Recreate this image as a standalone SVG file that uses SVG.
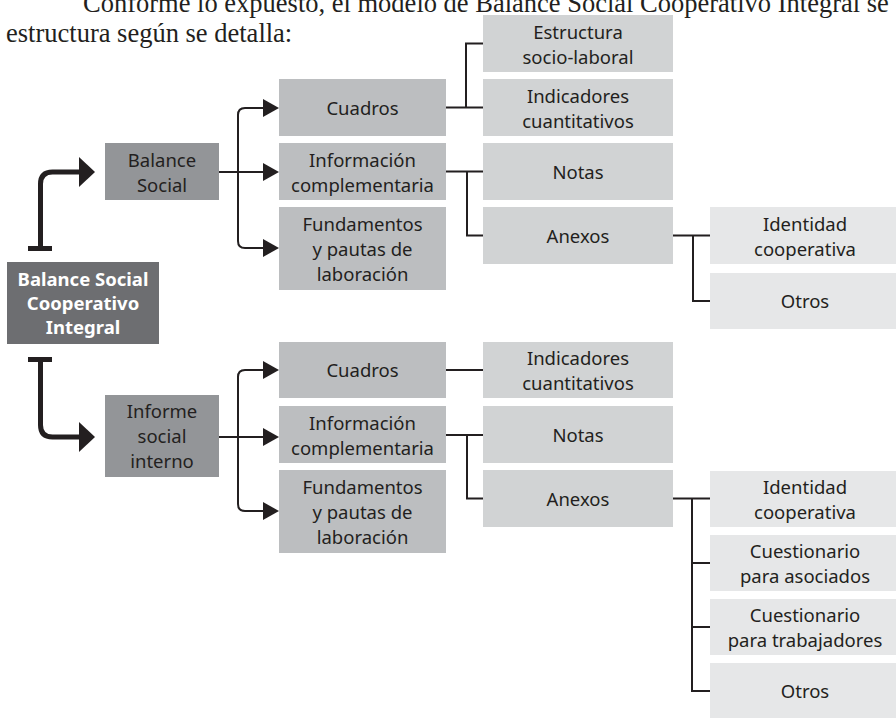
<svg xmlns="http://www.w3.org/2000/svg" width="896" height="718" viewBox="0 0 896 718">
<defs>
<style>
.n1{fill:#6d6e71}.n2{fill:#939598}.n3{fill:#bcbec0}.n4{fill:#d1d3d4}.n5{fill:#e6e7e8}
.t{font-family:"Noto Sans","Open Sans",sans-serif;font-size:18.5px;fill:#231f20;text-anchor:middle}
.b{font-weight:bold;fill:#ffffff}
.p{font-family:"Liberation Serif","Times New Roman",serif;font-size:26.5px;fill:#231f20}
.c{stroke:#231f20;stroke-width:2;fill:none}
.k{stroke:#231f20;stroke-width:5;fill:none}
.bar{fill:#231f20}
</style>
<marker id="ah" markerUnits="userSpaceOnUse" markerWidth="16" markerHeight="18" viewBox="0 0 16 18" refX="1" refY="9" orient="auto">
<path d="M0,0 L16,9 L0,18 Z" fill="#231f20"/>
</marker>
<marker id="AH" markerUnits="userSpaceOnUse" markerWidth="16" markerHeight="30" viewBox="0 0 16 30" refX="1" refY="15" orient="auto">
<path d="M0,0 L16,15 L0,30 Z" fill="#231f20"/>
</marker>
</defs>
<rect width="896" height="718" fill="#ffffff"/>
<text class="p" x="83" y="11.5">Conforme lo expuesto, el modelo de Balance Social Cooperativo Integral se</text>
<text class="p" x="6" y="42">estructura según se detalla:</text>

<g id="connectors">
<rect class="bar" x="28" y="246" width="24" height="5"/>
<path class="k" d="M40.5,248 V184 Q40.5,172 52.5,172 H80" marker-end="url(#AH)"/>
<rect class="bar" x="28" y="357" width="24" height="5"/>
<path class="k" d="M40.5,360 V425 Q40.5,437 52.5,437 H80" marker-end="url(#AH)"/>

<path class="c" d="M219,172 H264" marker-end="url(#ah)"/>
<path class="c" d="M238,172 V115 Q238,108 245,108 H264" marker-end="url(#ah)"/>
<path class="c" d="M238,172 V241 Q238,248 245,248 H264" marker-end="url(#ah)"/>
<path class="c" d="M446,107.5 H483 M466,107.5 V43.5 H483"/>
<path class="c" d="M446,171.5 H483 M467,171.5 V235.5 H483"/>
<path class="c" d="M673,235.5 H710 M693,235.5 V301 H710"/>

<path class="c" d="M219,437 H264" marker-end="url(#ah)"/>
<path class="c" d="M238,437 V377 Q238,370 245,370 H264" marker-end="url(#ah)"/>
<path class="c" d="M238,437 V504 Q238,511 245,511 H264" marker-end="url(#ah)"/>
<path class="c" d="M446,370 H483"/>
<path class="c" d="M446,435 H483 M467,435 V498.5 H483"/>
<path class="c" d="M673,498.5 H710 M692,498.5 V691 H710 M692,563 H710 M692,627 H710"/>
</g>

<g id="bsci"><rect class="n1" x="7" y="262" width="152" height="82"/>
<text class="t b" x="83"><tspan x="83" y="286">Balance Social</tspan><tspan x="83" y="310">Cooperativo</tspan><tspan x="83" y="334">Integral</tspan></text></g>

<g id="balance-social"><rect class="n2" x="105" y="143" width="114" height="57"/>
<text class="t"><tspan x="162" y="166.5">Balance</tspan><tspan x="162" y="191.5">Social</tspan></text></g>
<g id="informe"><rect class="n2" x="105" y="395" width="114" height="82"/>
<text class="t"><tspan x="162" y="418">Informe</tspan><tspan x="162" y="443">social</tspan><tspan x="162" y="468">interno</tspan></text></g>

<g id="cuadros1"><rect class="n3" x="279" y="79" width="167" height="57"/>
<text class="t" x="362.5" y="114.5">Cuadros</text></g>
<g id="info1"><rect class="n3" x="279" y="143" width="167" height="57"/>
<text class="t"><tspan x="362.5" y="166.5">Información</tspan><tspan x="362.5" y="191.5">complementaria</tspan></text></g>
<g id="fund1"><rect class="n3" x="279" y="207" width="167" height="83"/>
<text class="t"><tspan x="362.5" y="230.5">Fundamentos</tspan><tspan x="362.5" y="255.5">y pautas de</tspan><tspan x="362.5" y="280.5">laboración</tspan></text></g>

<g id="cuadros2"><rect class="n3" x="279" y="342" width="167" height="56"/>
<text class="t" x="362.5" y="377">Cuadros</text></g>
<g id="info2"><rect class="n3" x="279" y="406" width="167" height="57"/>
<text class="t"><tspan x="362.5" y="429.5">Información</tspan><tspan x="362.5" y="454.5">complementaria</tspan></text></g>
<g id="fund2"><rect class="n3" x="279" y="470" width="167" height="83"/>
<text class="t"><tspan x="362.5" y="493.5">Fundamentos</tspan><tspan x="362.5" y="518.5">y pautas de</tspan><tspan x="362.5" y="543.5">laboración</tspan></text></g>

<g id="estructura"><rect class="n4" x="483" y="15" width="190" height="57"/>
<text class="t"><tspan x="578" y="38.5">Estructura</tspan><tspan x="578" y="63.5">socio-laboral</tspan></text></g>
<g id="indicadores1"><rect class="n4" x="483" y="79" width="190" height="57"/>
<text class="t"><tspan x="578" y="102.5">Indicadores</tspan><tspan x="578" y="127.5">cuantitativos</tspan></text></g>
<g id="notas1"><rect class="n4" x="483" y="143" width="190" height="57"/>
<text class="t" x="578" y="178.5">Notas</text></g>
<g id="anexos1"><rect class="n4" x="483" y="207" width="190" height="57"/>
<text class="t" x="578" y="242.5">Anexos</text></g>

<g id="indicadores2"><rect class="n4" x="483" y="342" width="190" height="56"/>
<text class="t"><tspan x="578" y="364.5">Indicadores</tspan><tspan x="578" y="389.5">cuantitativos</tspan></text></g>
<g id="notas2"><rect class="n4" x="483" y="406" width="190" height="57"/>
<text class="t" x="578" y="441.5">Notas</text></g>
<g id="anexos2"><rect class="n4" x="483" y="470" width="190" height="57"/>
<text class="t" x="578" y="505.5">Anexos</text></g>

<g id="identidad1"><rect class="n5" x="710" y="207" width="190" height="57"/>
<text class="t"><tspan x="805" y="230.5">Identidad</tspan><tspan x="805" y="255.5">cooperativa</tspan></text></g>
<g id="otros1"><rect class="n5" x="710" y="273" width="190" height="56"/>
<text class="t" x="805" y="308">Otros</text></g>

<g id="identidad2"><rect class="n5" x="710" y="471" width="190" height="56"/>
<text class="t"><tspan x="805" y="493.5">Identidad</tspan><tspan x="805" y="518.5">cooperativa</tspan></text></g>
<g id="cuest-asoc"><rect class="n5" x="710" y="535" width="190" height="56"/>
<text class="t"><tspan x="805" y="557.5">Cuestionario</tspan><tspan x="805" y="582.5">para asociados</tspan></text></g>
<g id="cuest-trab"><rect class="n5" x="710" y="599" width="190" height="56"/>
<text class="t"><tspan x="805" y="621.5">Cuestionario</tspan><tspan x="805" y="646.5">para trabajadores</tspan></text></g>
<g id="otros2"><rect class="n5" x="710" y="663" width="190" height="56"/>
<text class="t" x="805" y="698">Otros</text></g>
</svg>
